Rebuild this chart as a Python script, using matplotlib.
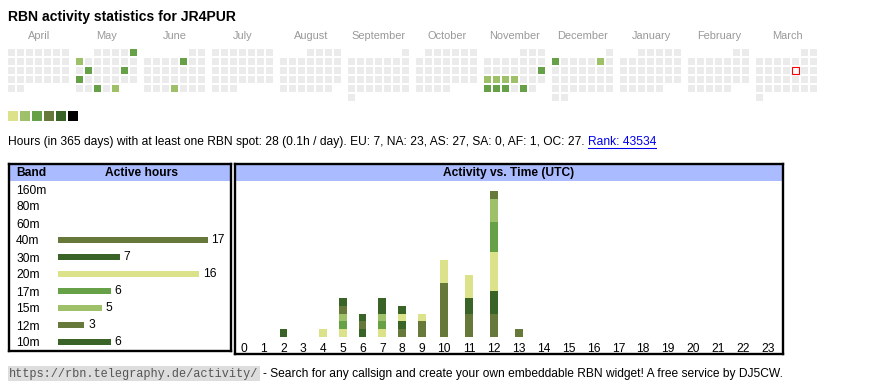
import datetime
import matplotlib
matplotlib.use('Agg')
import matplotlib.pyplot as plt
from matplotlib.patches import Rectangle
from matplotlib.lines import Line2D

plt.rcParams['font.family'] = ['Liberation Sans', 'DejaVu Sans']

W, H = 870, 390

# ---- data ----
callsign = 'JR4PUR'
month_names = ['April', 'May', 'June', 'July', 'August', 'September', 'October',
               'November', 'December', 'January', 'February', 'March']
start_year, start_month = 2024, 4
today = datetime.date(2025, 3, 14)

# days with spots and their activity level (1..6)
active_days = ['2024-05-05', '2024-05-06', '2024-05-14', '2024-05-18', '2024-05-20',
               '2024-05-29', '2024-05-31', '2024-06-07', '2024-06-27',
               '2024-11-17', '2024-11-18', '2024-11-19', '2024-11-20', '2024-11-21',
               '2024-11-25', '2024-11-26', '2024-11-27', '2024-11-29',
               '2024-12-02', '2024-12-07']
active_levels = [3, 2, 3, 3, 3,
                 3, 2, 3, 2,
                 3, 2, 2, 2, 2,
                 3, 3, 3, 3,
                 3, 2]
level_colors = ['#dbe28a', '#9dc068', '#66a047', '#66793b', '#3a6427', '#000000']

total_hours = 28
hours_per_day = 0.1
continents = ['EU', 'NA', 'AS', 'SA', 'AF', 'OC']
continent_hours = [7, 23, 27, 0, 1, 27]
rank = 43534

bands = ['160m', '80m', '60m', '40m', '30m', '20m', '17m', '15m', '12m', '10m']
band_hours = [0, 0, 0, 17, 7, 16, 6, 5, 3, 6]
band_colors = ['#000000', '#3a6427', '#66793b', '#66793b', '#3a6427',
               '#dbe28a', '#66a047', '#9dc068', '#66793b', '#3a6427']

# active hours per band for each UTC hour 0..23
utc_hours = list(range(24))
hours_160m = [0] * 24
hours_80m = [0] * 24
hours_60m = [0] * 24
hours_40m = [0, 0, 0, 0, 0, 0, 0, 0, 1, 2, 7, 3, 3, 1, 0, 0, 0, 0, 0, 0, 0, 0, 0, 0]
hours_30m = [0, 0, 0, 0, 0, 0, 1, 0, 1, 0, 0, 2, 3, 0, 0, 0, 0, 0, 0, 0, 0, 0, 0, 0]
hours_20m = [0, 0, 0, 0, 1, 1, 0, 1, 1, 1, 3, 3, 5, 0, 0, 0, 0, 0, 0, 0, 0, 0, 0, 0]
hours_17m = [0, 0, 0, 0, 0, 1, 0, 1, 0, 0, 0, 0, 4, 0, 0, 0, 0, 0, 0, 0, 0, 0, 0, 0]
hours_15m = [0, 0, 0, 0, 0, 1, 0, 1, 0, 0, 0, 0, 3, 0, 0, 0, 0, 0, 0, 0, 0, 0, 0, 0]
hours_12m = [0, 0, 0, 0, 0, 1, 1, 0, 0, 0, 0, 0, 1, 0, 0, 0, 0, 0, 0, 0, 0, 0, 0, 0]
hours_10m = [0, 0, 1, 0, 0, 1, 1, 2, 1, 0, 0, 0, 0, 0, 0, 0, 0, 0, 0, 0, 0, 0, 0, 0]
band_by_hour = [hours_160m, hours_80m, hours_60m, hours_40m, hours_30m,
                hours_20m, hours_17m, hours_15m, hours_12m, hours_10m]

HEADER_BLUE = '#aabbff'
FS = 8.64  # 12px


fig = plt.figure(figsize=(W / 100, H / 100), dpi=100)


def px_axes(x0, y0, x1, y1):
    return fig.add_axes([x0 / W, 1 - y1 / H, (x1 - x0) / W, (y1 - y0) / H])


def frame(ax, w, h):
    ax.set_xlim(0, w)
    ax.set_ylim(h, 0)
    ax.set_xticks([])
    ax.set_yticks([])
    for s in ax.spines.values():
        s.set_linewidth(1.7)
    ax.add_patch(Rectangle((0, 0), w, 16.4, color=HEADER_BLUE, lw=0))


fig.text(8 / W, 1 - 17 / H, 'RBN activity statistics for ' + callsign,
         fontsize=10.1, fontweight='bold', va='center')

# calendar, one 7-column block per month
cal = px_axes(8, 49, 819, 101)
cal.set_xlim(0, 811)
cal.set_ylim(52, 0)
cal.axis('off')
levels = dict(zip(active_days, active_levels))
for m in range(12):
    yr = start_year + (start_month - 1 + m) // 12
    mo = (start_month - 1 + m) % 12 + 1
    first = datetime.date(yr, mo, 1)
    nxt = datetime.date(yr + mo // 12, mo % 12 + 1, 1)
    x0 = m * 68
    cal.text(x0 + 31, -13, month_names[m], ha='center', va='center',
             color='#999999', fontsize=7.9, clip_on=False)
    for d in range((nxt - first).days):
        day = first + datetime.timedelta(days=d)
        row, col = divmod(first.weekday() + d, 7)
        key = day.isoformat()
        fc = level_colors[levels[key] - 1] if key in levels else '#ebebeb'
        ec = 'none'
        if day == today:
            fc, ec = 'white', 'red'
        cal.add_patch(Rectangle((x0 + col * 9, row * 9), 7, 7, facecolor=fc,
                                edgecolor=ec, lw=0.8, clip_on=False))
for i, c in enumerate(level_colors):
    cal.add_patch(Rectangle((i * 12, 62), 10, 10, color=c, lw=0, clip_on=False))

# summary line
stats = 'Hours (in 365 days) with at least one RBN spot: {} ({}h / day). '.format(
    total_hours, hours_per_day)
stats += ', '.join('{}: {}'.format(c, h) for c, h in zip(continents, continent_hours)) + '.'
t_stats = fig.text(8 / W, 1 - 142 / H, stats, fontsize=FS, va='center')

# band table
tab = px_axes(9, 164.3, 231, 351)
frame(tab, 222, 186.7)
tab.text(7, 9, 'Band', fontsize=FS, fontweight='bold', va='center')
tab.text(132.7, 9, 'Active hours', fontsize=FS, fontweight='bold', va='center', ha='center')

bax = px_axes(58, 180.5, 230, 350.5)
bax.patch.set_visible(False)
bax.set_xlim(0, 172 / 8.8)
bax.set_ylim(len(bands) - 0.5, -0.5)
bax.barh(range(len(bands)), band_hours, height=0.38, color=band_colors)
for i, h in enumerate(band_hours):
    if h > 0:
        bax.text(h + 0.45, i, str(h), fontsize=FS, va='center')
bax.set_xticks([])
bax.set_yticks(range(len(bands)))
bax.set_yticklabels(bands, fontsize=FS, ha='left')
bax.tick_params(axis='y', length=0, pad=30.2)
for s in bax.spines.values():
    s.set_visible(False)

# activity vs time
act = px_axes(234.5, 164.3, 782.8, 353.8)
frame(act, 548.3, 189.5)
act.text(274, 9, 'Activity vs. Time (UTC)', fontsize=FS, fontweight='bold',
         va='center', ha='center')

hour_labels = [str(h) for h in utc_hours]
col_w = [14.6 + 5.15 * len(s) for s in hour_labels]
centers = []
pos = 0
for w in col_w:
    centers.append(pos + w / 2)
    pos += w

tax = px_axes(234.1, 181, 234.1 + pos, 336.7)
tax.patch.set_visible(False)
tax.set_xlim(0, pos)
tax.set_ylim(0, 155.7 / 7.67)
bottom = [0] * 24
for vals, c in zip(band_by_hour, band_colors):
    tax.bar(centers, vals, width=7.7, bottom=bottom, color=c, lw=0)
    bottom = [b + v for b, v in zip(bottom, vals)]
tax.set_yticks([])
tax.set_xticks(centers)
tax.set_xticklabels(hour_labels, fontsize=FS)
tax.tick_params(axis='x', length=0, pad=4.2)
for s in tax.spines.values():
    s.set_visible(False)

# footer
t_url = fig.text(9 / W, 1 - 373.5 / H, 'https://rbn.telegraphy.de/activity/',
                 family=['Liberation Mono', 'DejaVu Sans Mono'], fontsize=8.6,
                 color='#555555', va='center',
                 bbox=dict(boxstyle='square,pad=0.12', fc='#dddddd', ec='none'))

fig.canvas.draw()
r = fig.canvas.get_renderer()
bb = t_stats.get_window_extent(r)
t_rank = fig.text((bb.x1 + 3.3) / W, 1 - 142 / H, 'Rank: {}'.format(rank),
                  fontsize=FS, va='center', color='#0000ee')
bb = t_url.get_bbox_patch().get_window_extent(r)
fig.text((bb.x1 + 3) / W, 1 - 373.5 / H,
         '- Search for any callsign and create your own embeddable RBN widget! '
         'A free service by DJ5CW.',
         fontsize=8.65, va='center')
fig.canvas.draw()
bb = t_rank.get_window_extent(r)
fig.add_artist(Line2D([bb.x0 / W, bb.x1 / W], [1 - 147.5 / H] * 2,
                      color='#0000ee', lw=0.75))

fig.savefig('out.png', dpi=100)
